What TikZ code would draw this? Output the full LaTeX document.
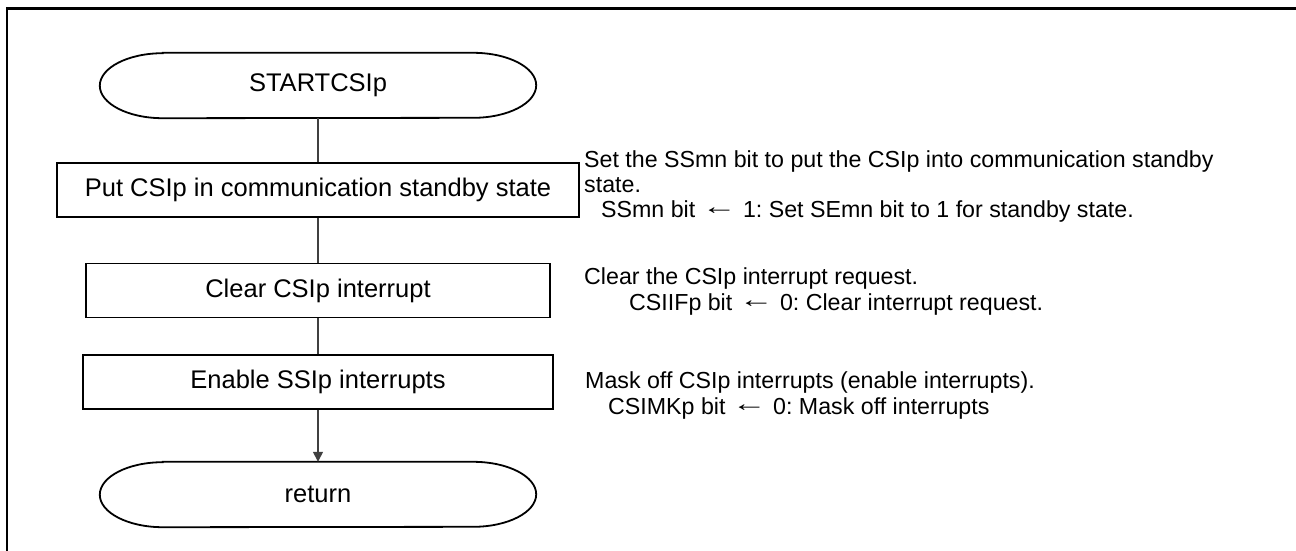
\documentclass[tikz,border=0pt]{standalone}
\usepackage{graphicx}
\usepackage{fontspec}
\setmainfont{Liberation Sans}
\usetikzlibrary{arrows.meta}
\tikzset{
  procbox/.style={draw=black, line width=1.8pt, minimum height=54pt, inner sep=0pt, font=\fontsize{25.5}{30}\selectfont},
  termnode/.style={minimum width=436pt, minimum height=65pt, inner sep=0pt, font=\fontsize{25.5}{30}\selectfont},
  termline/.style={draw=black, line width=1.8pt},
  conn/.style={draw=black!75, line width=1.4pt},
  note/.style={anchor=base west, inner sep=0pt, text height=15pt, text depth=4pt, font=\fontsize{23.2}{27}\selectfont},
  frameline/.style={draw=black, line width=2.6pt}
}
\newcommand\larrowglyph{\raisebox{0.12em}{\scalebox{1.5}[1]{←}}}
\newcommand\termshape[1]{%
  \draw[termline] ([xshift=63pt]#1.north west) -- ([xshift=-63pt]#1.north east)
    arc[start angle=90,end angle=-90,x radius=63pt,y radius=32.5pt]
    -- ([xshift=63pt]#1.south west)
    arc[start angle=270,end angle=90,x radius=63pt,y radius=32.5pt] -- cycle;}
\begin{document}
\frenchspacing
\begin{tikzpicture}[x=1pt,y=1pt]
\useasboundingbox (0,0) rectangle (1296,-550);
\begin{scope}
\clip (0,0) rectangle (1296,-550);
\draw[frameline] (1310,-8.7) -| (7,-570);
\end{scope}

\node[termnode] (start) at (318,-85.5) {STARTCSIp};
\termshape{start}
\node[procbox, minimum width=522pt] (b1) at (318,-190) {Put CSIp in communication standby state};
\node[procbox, minimum width=464pt] (b2) at (318,-290.5) {Clear CSIp interrupt};
\node[procbox, minimum width=470pt] (b3) at (318,-382) {Enable SSIp interrupts};
\node[termnode] (ret) at (318,-494.5) {return};
\termshape{ret}

\draw[conn] (start.south) -- (b1.north);
\draw[conn] (b1.south) -- (b2.north);
\draw[conn] (b2.south) -- (b3.north);
\draw[conn, -{Triangle[length=10pt,width=10pt]}] (b3.south) -- (ret.north);

\node[note] (n1a) at (584,-167) {Set the SSmn bit to put the CSIp into communication standby};
\node[note] (n1b) at (584,-192) {state.};
\node[note] (n1c) at (601,-217) {SSmn bit \larrowglyph{} 1: Set SEmn bit to 1 for standby state.};
\node[note] (n2a) at (584,-284) {Clear the CSIp interrupt request.};
\node[note] (n2b) at (629,-310) {CSIIFp bit \larrowglyph{} 0: Clear interrupt request.};
\node[note] (n3a) at (585,-388) {Mask off CSIp interrupts (enable interrupts).};
\node[note] (n3b) at (608,-414) {CSIMKp bit \larrowglyph{} 0: Mask off interrupts};
\end{tikzpicture}
\end{document}
